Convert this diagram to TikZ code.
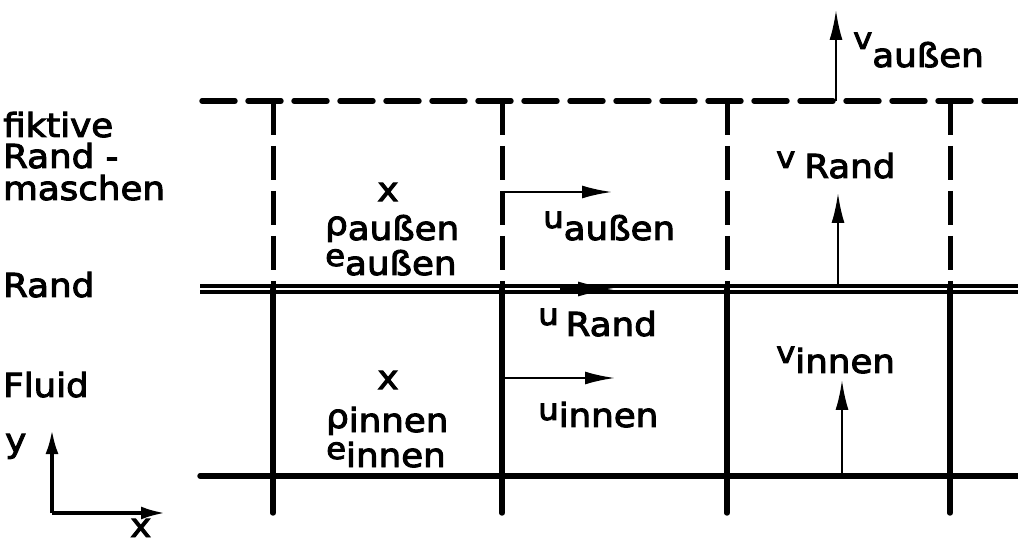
\documentclass[tikz,border=0pt]{standalone}
\usepackage{fontspec}
\setmainfont{DejaVu Sans}[FakeStretch=1.08, FakeBold=3]
\usetikzlibrary{arrows.meta}
\newcommand\prefix[2]{\raisebox{#1}{\fontsize{30}{30}\selectfont #2}}
\newcommand\twolines[3]{\vtop{\baselineskip=#1\lineskiplimit=-100pt\lineskip=0pt\hbox{#2}\hbox{#3}}}
\begin{document}
\begin{tikzpicture}[x=1pt,y=-1pt,
  solidgrid/.style={line width=5.4pt, line cap=round},
  dashgrid/.style={line width=5.4pt, line cap=round, dash pattern=on 33pt off 13pt},
  randline/.style={line width=3.8pt, double distance=2.4pt},
  vec/.style={line width=2.4pt, -{Latex[length=30pt,width=13pt]}},
  axis/.style={line width=3.4pt, -{Latex[length=24pt,width=13pt]}},
  lbl/.style={inner sep=0pt, anchor=base west, font=\fontsize{33}{33}\selectfont},
  mid/.style={inner sep=0pt, font=\fontsize{33}{33}\selectfont},
]
\useasboundingbox (0,0) rectangle (1018,545);
% horizontal lines
\coordinate (topL) at (202,101);  \coordinate (topR) at (1018,101);
\coordinate (randL) at (200,289); \coordinate (randR) at (1018,289);
\coordinate (botL) at (200,476);  \coordinate (botR) at (1018,476);
\draw[dashgrid] (topL) -- (topR);
\draw[randline] (randL) -- (randR);
\draw[solidgrid] (botL) -- (botR);
% vertical lines
\foreach \i/\x in {1/273,2/502,3/727,4/950}{
  \coordinate (t\i) at (\x,101);
  \coordinate (m\i) at (\x,289);
  \coordinate (b\i) at (\x,513);
  \draw[line width=5pt, dash pattern=on 34pt off 11pt] (t\i) -- (m\i);
  \draw[solidgrid] (m\i) -- (b\i);
}
% velocity arrows
\coordinate (ua0) at (502,192); \coordinate (ua1) at (612,192);
\coordinate (ui0) at (502,378); \coordinate (ui1) at (615,378);
\coordinate (ur0) at (560,289); \coordinate (ur1) at (614,289);
\coordinate (va0) at (836,101); \coordinate (va1) at (836,10);
\coordinate (vr0) at (838,287); \coordinate (vr1) at (838,193);
\coordinate (vi0) at (842,476); \coordinate (vi1) at (842,380);
\draw[vec] (ua0) -- (ua1);
\draw[vec] (ui0) -- (ui1);
\draw[line width=2pt, -{Latex[length=36pt,width=15pt]}] (ur0) -- (ur1);
\draw[vec] (va0) -- (va1);
\draw[vec] (vr0) -- (vr1);
\draw[vec] (vi0) -- (vi1);
% labels of vectors
\node[lbl] (lva) at (853,67) {\prefix{18pt}{v}außen};
\node[lbl] (lvr) at (776,178) {\prefix{10pt}{v}\hspace{9pt}Rand};
\node[lbl] (lua) at (543,240) {\prefix{12pt}{u}außen};
\node[lbl] (lur) at (538,336) {\prefix{11pt}{u}\hspace{7pt}Rand};
\node[lbl] (lui) at (538,427) {\prefix{7pt}{u}innen};
\node[lbl] (lvi) at (776,373) {\prefix{10pt}{v}innen};
% cell values
\node[mid] (xa) at (388,192) {x};
\node[mid] (xi) at (388,380) {x};
\node[lbl] (statea) at (325,240) {\twolines{35pt}{\raisebox{5pt}{ρ}außen}{\prefix{9pt}{e}außen}};
\node[lbl] (statei) at (326,432) {\twolines{35pt}{\raisebox{4pt}{ρ}innen}{\prefix{8pt}{e}innen}};
% left labels
\node[lbl] (fik) at (3,137) {\twolines{31pt}{fiktive}{Rand -}};
\node[lbl] (masch) at (3,200) {maschen};
\node[lbl] (rand) at (3,297) {Rand};
\node[lbl] (fluid) at (3,397) {Fluid};
% axes
\coordinate (o) at (52,513);
\coordinate (ay) at (52,430);
\coordinate (ax) at (165,513);
\draw[axis] (o) -- (ay);
\draw[axis] (o) -- (ax);
\node[lbl] (ylab) at (5,452) {y};
\node[lbl] (xlab) at (130,537) {x};
\end{tikzpicture}
\end{document}
